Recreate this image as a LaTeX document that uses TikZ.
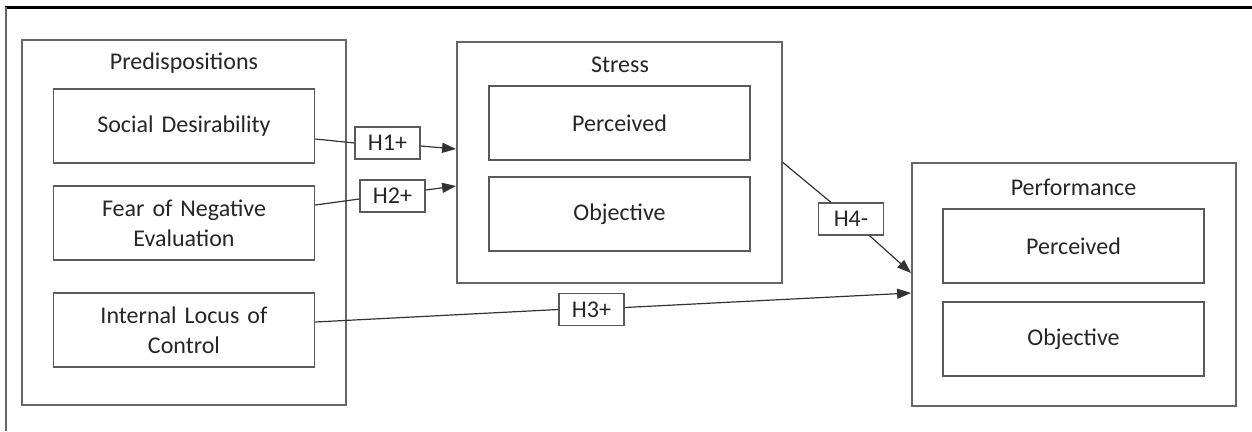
\documentclass[tikz,border=0pt]{standalone}
\usepackage{fontspec}
\setmainfont{Carlito}
\usepackage{xcolor}
\usepackage{tikz}
\usetikzlibrary{arrows.meta, positioning}

\begin{document}
\begin{tikzpicture}[
    x=1pt, y=-1pt,
    font=\fontsize{24}{30}\selectfont,
    text=black!85,
    group/.style={rectangle, draw=black!60, line width=1.8pt, fill=white, minimum width=324pt, inner sep=0pt},
    construct/.style={rectangle, draw=black!65, line width=1.5pt, fill=white, text width=250pt, align=center, minimum width=261pt, minimum height=74pt, inner sep=0pt},
    title/.style={inner sep=0pt},
    hyp/.style={rectangle, draw=black!65, line width=1.3pt, fill=white, minimum width=65pt, minimum height=32pt, inner sep=0pt},
    line/.style={draw=black!80, line width=1.2pt},
    arrow/.style={line, -{Triangle[length=14pt,width=10pt]}}
]
\useasboundingbox (0,0) rectangle (1252,431);

% Frame
\draw[line width=3pt] (5,7) -- (1252,7);
\draw[black!60, line width=2pt] (6,7) -- (6,431);

% Predispositions
\node[group, minimum height=365pt] (pred) at (184,222.5) {};
\node[title] (predtitle) at (184,63) {Predispositions};
\node[construct] (social) at (184,126) {Social Desirability};
\node[construct] (fear) at (184,223) {Fear of Negative\\Evaluation};
\node[construct] (locus) at (184,330) {Internal Locus of\\Control};

% Stress
\node[group, minimum width=325pt, minimum height=241pt] (stress) at (619.5,162.5) {};
\node[title] (stresstitle) at (620,65) {Stress};
\node[construct] (sperc) at (619.5,123) {Perceived};
\node[construct] (sobj) at (619.5,214) {Objective};

% Performance
\node[group, minimum height=243pt] (perf) at (1074,284.5) {};
\node[title] (perftitle) at (1073.5,187) {Performance};
\node[construct] (pperc) at (1073.5,246) {Perceived};
\node[construct] (pobj) at (1073.5,339) {Objective};

% Hypotheses
\node[hyp] (h1) at (387.5,143) {H1+};
\node[hyp] (h2) at (392.5,196) {H2+};
\node[hyp] (h3) at (591.5,309.5) {H3+};
\node[hyp] (h4) at (851,219) {H4-};

% Arrows
\draw[line] ([yshift=-13pt]social.east) -- (h1.west);
\draw[arrow] ([yshift=-3pt]h1.east) -- ([yshift=13.5pt]stress.west);
\draw[line] ([yshift=18pt]fear.east) -- ([yshift=-3pt]h2.west);
\draw[arrow] ([yshift=6pt]h2.east) -- ([yshift=-23.5pt]stress.west);
\draw[line] ([yshift=8pt]locus.east) -- (h3.west);
\draw[arrow] ([yshift=2pt]h3.east) -- ([yshift=-8.5pt]perf.west);
\draw[line] (stress.east) -- (h4);
\draw[arrow] (h4) -- ([yshift=11.5pt]perf.west);

\end{tikzpicture}
\end{document}
